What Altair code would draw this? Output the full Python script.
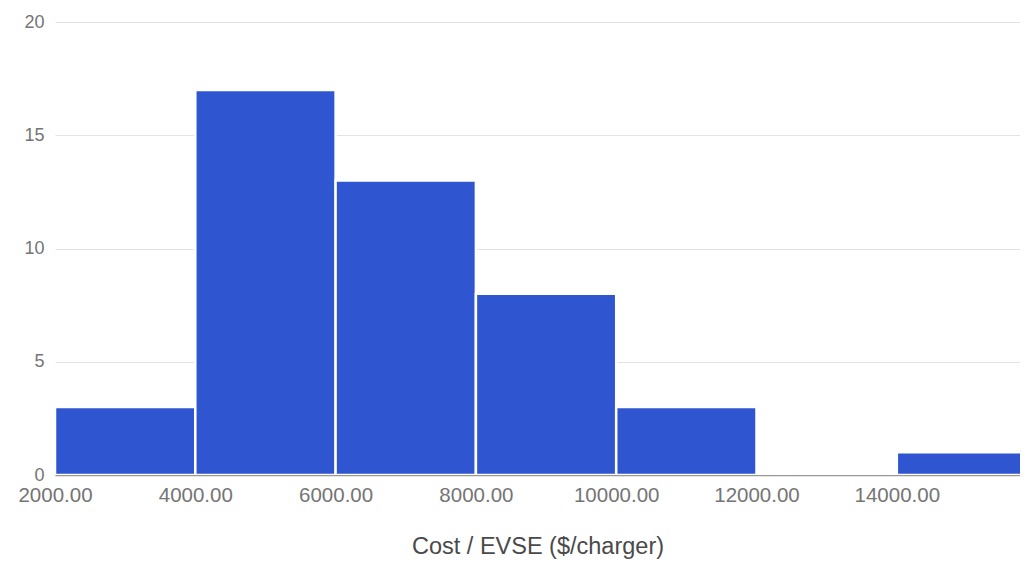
import altair as alt
import pandas as pd

bin_start = [2000, 4000, 6000, 8000, 10000, 12000, 14000]
bin_end = [4000, 6000, 8000, 10000, 12000, 14000, 16000]
counts = [3, 17, 13, 8, 3, 0, 1]
x_ticks = [2000, 4000, 6000, 8000, 10000, 12000, 14000]
y_ticks = [0, 5, 10, 15, 20]

df = pd.DataFrame({"start": bin_start, "end": bin_end, "count": counts})

chart = alt.Chart(df).mark_rect(
    color="#2f56d0", stroke="#ffffff", strokeWidth=2.5, clip=True
).encode(
    x=alt.X("start:Q",
            scale=alt.Scale(domain=[2000, 15756], nice=False, zero=False),
            axis=alt.Axis(values=x_ticks, format=".2f", title="Cost / EVSE  ($/charger)",
                          grid=False, ticks=False, domain=True, domainColor="#999999",
                          domainWidth=1.5, labelFontSize=20.5, labelColor="#757575",
                          labelPadding=10, labelFont="Liberation Sans",
                          titleFont="Liberation Sans", titleFontSize=23.5,
                          titleFontWeight="normal", titleColor="#4a4a4a",
                          titlePadding=29, labelFlush=False)),
    x2="end:Q",
    y=alt.Y("count:Q",
            scale=alt.Scale(domain=[0, 20], nice=False),
            axis=alt.Axis(values=y_ticks, title=None, grid=True, gridColor="#e3e3e3",
                          gridWidth=1, ticks=False, domain=False, labelFontSize=18,
                          labelColor="#757575", labelPadding=11,
                          labelFont="Liberation Sans", labelBaseline="middle")),
    y2=alt.datum(0),
).properties(
    width=965, height=453,
    autosize=alt.AutoSizeParams(type="none"),
    padding={"left": 47, "top": 14, "right": 0, "bottom": 86},
).configure_view(stroke=None)

chart.save("out.html", embed_options={"renderer": "svg", "actions": False})
